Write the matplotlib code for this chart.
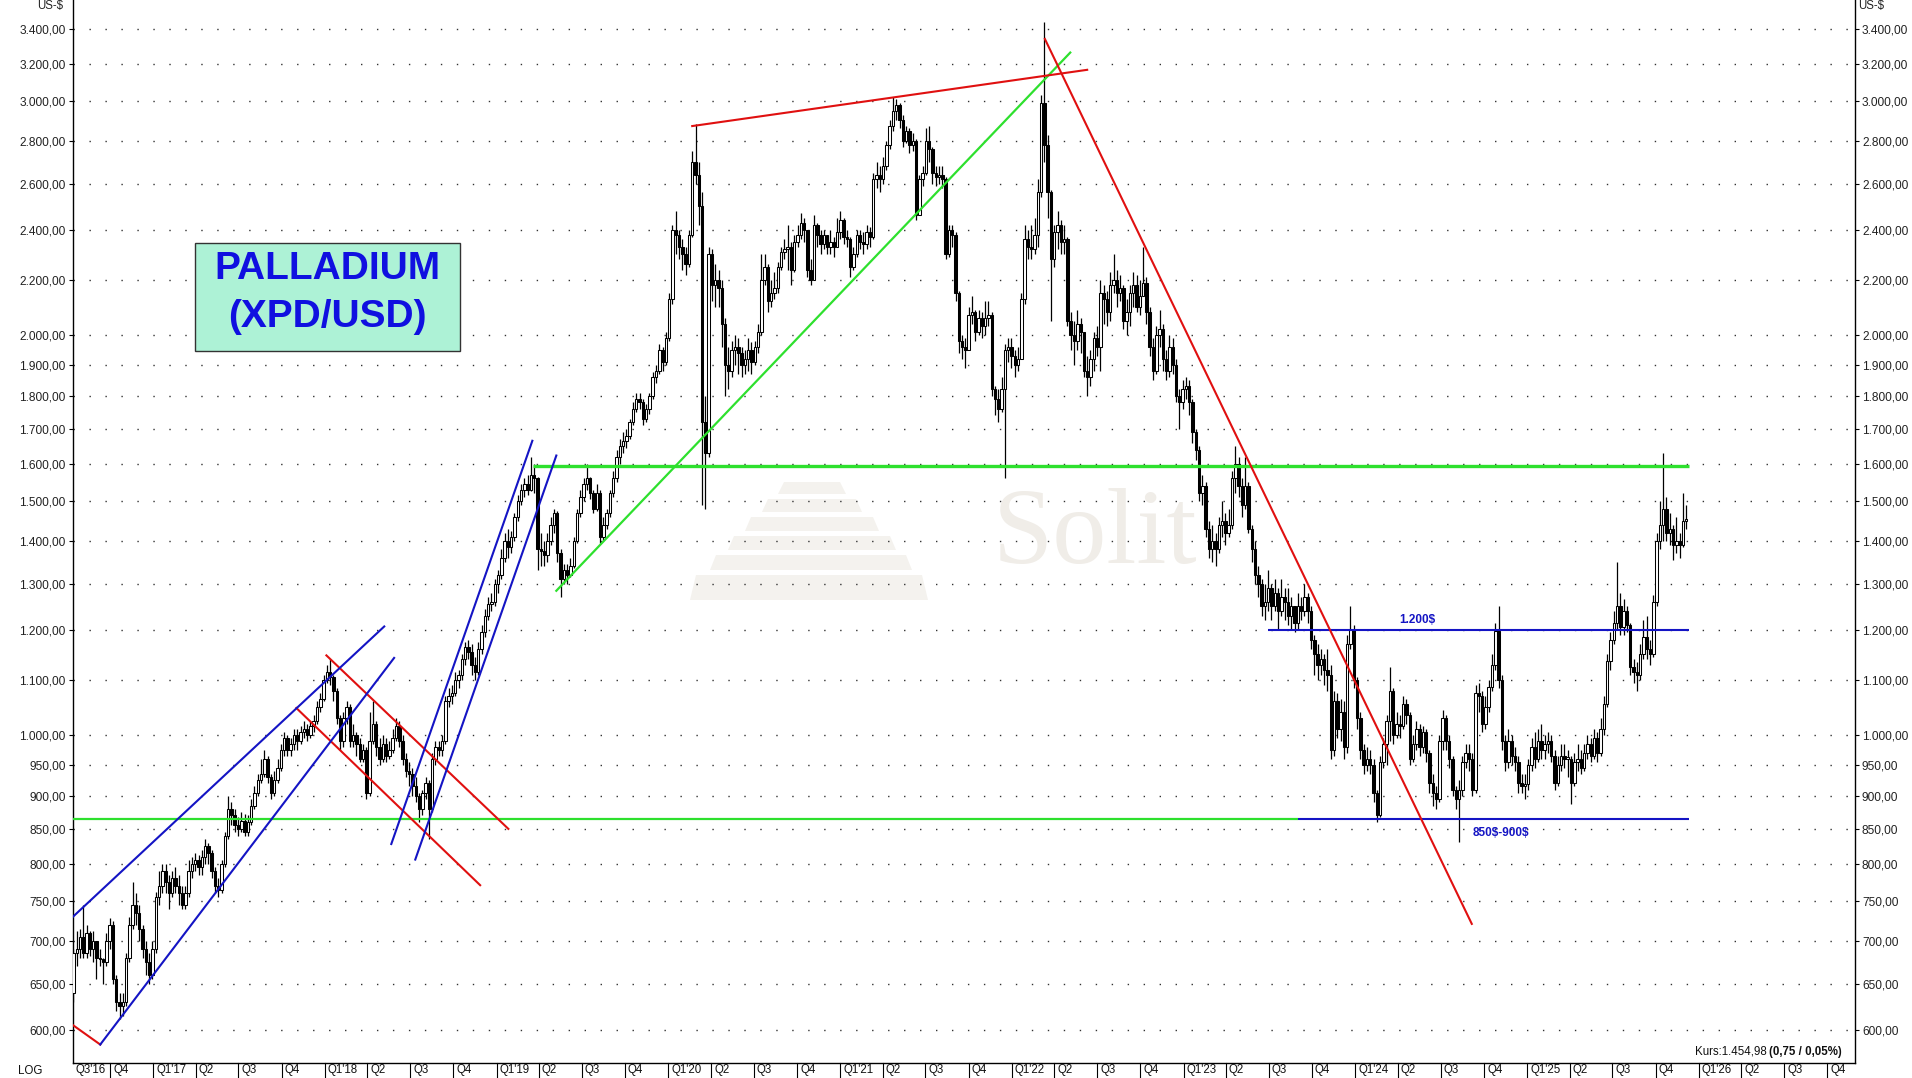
import datetime as dt
import matplotlib
matplotlib.use("Agg")
import matplotlib.pyplot as plt
import matplotlib.dates as mdates
import matplotlib.transforms as mtransforms
from matplotlib.patches import Rectangle, Polygon
from matplotlib.ticker import FixedLocator, FuncFormatter, NullLocator

plt.rcParams['font.family'] = ['Liberation Sans', 'DejaVu Sans']

# ---------------- data: weekly palladium candles (US-$) ----------------
start_date = dt.date(2016, 7, 15)
first_open = 640
close = [
    685, 690, 705, 685, 710, 690, 700, 680, 678, 675,
    700, 720, 655, 630, 625, 630, 680, 720, 745, 735,
    715, 690, 675, 660, 690, 755, 770, 790, 775, 760,
    780, 770, 760, 745, 760, 790, 800, 805, 795, 810,
    825, 815, 790, 770, 765, 800, 840, 880, 870, 855,
    850, 862, 845, 860, 885, 905, 925, 935, 960, 930,
    905, 925, 945, 975, 995, 975, 985, 1000, 990, 1005,
    1010, 1000, 1015, 1025, 1050, 1065, 1100, 1115, 1105, 1080,
    1030, 990, 1030, 1050, 990, 1000, 985, 960, 975, 905,
    990, 1020, 980, 960, 985, 965, 975, 995, 1015, 990,
    960, 940, 935, 915, 900, 880, 905, 920, 880, 960,
    980, 975, 990, 1060, 1070, 1075, 1100, 1110, 1140, 1165,
    1155, 1130, 1115, 1160, 1195, 1230, 1255, 1260, 1300, 1320,
    1360, 1400, 1385, 1410, 1460, 1500, 1530, 1545, 1530, 1570,
    1560, 1380, 1375, 1365, 1400, 1440, 1470, 1370, 1310, 1330,
    1320, 1340, 1400, 1470, 1510, 1545, 1560, 1520, 1480, 1520,
    1410, 1440, 1470, 1520, 1560, 1620, 1650, 1665, 1680, 1720,
    1760, 1790, 1780, 1730, 1760, 1800, 1860, 1880, 1950, 1910,
    1990, 2130, 2400, 2380, 2330, 2300, 2260, 2380, 2700, 2640,
    2500, 1720, 1630, 2300, 2180, 2200, 2170, 2040, 1900, 1880,
    1950, 1960, 1940, 1900, 1920, 1950, 1910, 1960, 2010, 2200,
    2250, 2120, 2150, 2170, 2250, 2310, 2320, 2330, 2240, 2350,
    2380, 2430, 2400, 2240, 2200, 2420, 2380, 2340, 2380, 2330,
    2350, 2330, 2390, 2440, 2370, 2360, 2250, 2300, 2380, 2350,
    2340, 2390, 2370, 2620, 2640, 2620, 2680, 2780, 2870, 2950,
    2980, 2900, 2800, 2850, 2780, 2800, 2460, 2620, 2650, 2800,
    2760, 2650, 2630, 2640, 2620, 2300, 2400, 2380, 2150, 1980,
    1960, 1950, 2070, 2080, 2010, 2060, 2030, 2060, 2070, 1820,
    1790, 1760, 1820, 1950, 1960, 1930, 1900, 1920, 2130, 2360,
    2330, 2320, 2380, 2560, 2990, 2780, 2560, 2280, 2390, 2420,
    2350, 2360, 2050, 2000, 1980, 2040, 2010, 1880, 1860, 1920,
    1990, 1960, 2150, 2130, 2080, 2180, 2200, 2150, 2170, 2050,
    2080, 2150, 2180, 2100, 2140, 2190, 2080, 1960, 1880, 2000,
    2020, 1920, 1880, 1960, 1900, 1800, 1780, 1820, 1830, 1780,
    1690, 1640, 1520, 1540, 1430, 1380, 1400, 1380, 1440, 1450,
    1420, 1440, 1560, 1600, 1540, 1490, 1540, 1430, 1380, 1320,
    1300, 1250, 1260, 1290, 1250, 1280, 1240, 1270, 1260, 1230,
    1250, 1215, 1250, 1240, 1270, 1240, 1180, 1150, 1130, 1140,
    1120, 1110, 975, 1060, 1010, 1040, 980, 1170, 1200, 1100,
    1030, 975, 950, 960, 950, 905, 870, 955, 985, 1025,
    1080, 1000, 1020, 1015, 1055, 1035, 960, 985, 1010, 980,
    1005, 970, 920, 905, 895, 990, 1030, 990, 960, 910,
    895, 910, 955, 970, 960, 910, 1075, 1070, 1020, 1050,
    1087, 1130, 1197, 1100, 990, 955, 990, 965, 955, 920,
    915, 918, 950, 980, 960, 990, 975, 985, 990, 965,
    920, 950, 965, 960, 960, 920, 955, 960, 945, 970,
    985, 965, 995, 970, 1010, 1055, 1137, 1180, 1215, 1250,
    1205, 1240, 1210, 1125, 1115, 1110, 1150, 1185, 1160, 1150,
    1260, 1400, 1440, 1480, 1420, 1430, 1390, 1400, 1390, 1450, 1455,
]
high = [
    690, 712, 715, 745, 720, 712, 712, 700, 690, 680,
    710, 728, 725, 660, 640, 640, 685, 730, 775, 760,
    745, 720, 700, 685, 700, 762, 790, 800, 800, 785,
    790, 795, 785, 770, 770, 805, 810, 815, 812, 820,
    835, 830, 820, 795, 780, 805, 845, 900, 890, 880,
    868, 875, 872, 870, 895, 915, 935, 960, 975, 965,
    935, 940, 960, 985, 1005, 1000, 995, 1010, 1010, 1015,
    1025, 1020, 1025, 1035, 1060, 1075, 1110, 1130, 1140, 1110,
    1085, 1035, 1040, 1060, 1055, 1020, 1005, 995, 985, 980,
    1040, 1060, 1025, 995, 1000, 995, 990, 1010, 1030, 1025,
    1000, 970, 955, 945, 930, 905, 910, 930, 925, 970,
    990, 990, 1000, 1070, 1085, 1090, 1115, 1120, 1150, 1175,
    1180, 1170, 1145, 1175, 1210, 1245, 1270, 1280, 1310, 1330,
    1380, 1420, 1430, 1425, 1470, 1515, 1545, 1560, 1570, 1620,
    1600, 1565, 1420, 1400, 1420, 1460, 1480, 1475, 1380, 1345,
    1345, 1360, 1410, 1480, 1530, 1560, 1600, 1565, 1530, 1545,
    1530, 1460, 1480, 1530, 1580, 1640, 1670, 1690, 1700, 1730,
    1780, 1810, 1810, 1790, 1775, 1810, 1875, 1900, 1970, 1960,
    2010, 2150, 2420, 2480, 2400, 2360, 2330, 2400, 2750, 2880,
    2700, 2560, 1800, 2330, 2320, 2260, 2240, 2200, 2060, 1960,
    1980, 2000, 1990, 1960, 1950, 1990, 1975, 1980, 2040, 2300,
    2300, 2260, 2200, 2230, 2270, 2330, 2360, 2420, 2350, 2380,
    2420, 2470, 2450, 2400, 2280, 2460, 2430, 2400, 2400, 2380,
    2400, 2370, 2450, 2480, 2450, 2400, 2370, 2330, 2400, 2400,
    2390, 2420, 2410, 2650, 2700, 2680, 2720, 2800, 2900, 3020,
    3010, 2990, 2930, 2870, 2860, 2840, 2810, 2640, 2680, 2860,
    2870, 2770, 2680, 2680, 2680, 2630, 2420, 2420, 2390, 2160,
    2000, 1990, 2100, 2140, 2090, 2090, 2080, 2120, 2120, 2080,
    1830, 1820, 1860, 1970, 1990, 1990, 1950, 1960, 2150, 2420,
    2400, 2420, 2450, 2620, 3030, 3440, 2830, 2570, 2420, 2480,
    2440, 2420, 2370, 2080, 2050, 2090, 2060, 2000, 1930, 1950,
    2010, 2030, 2200, 2180, 2160, 2230, 2300, 2240, 2220, 2180,
    2130, 2180, 2230, 2220, 2200, 2330, 2210, 2100, 1990, 2030,
    2090, 2040, 1950, 2000, 1990, 1920, 1820, 1850, 1860, 1850,
    1790, 1700, 1650, 1570, 1550, 1450, 1440, 1420, 1460, 1500,
    1470, 1480, 1580, 1650, 1620, 1560, 1620, 1550, 1440, 1400,
    1340, 1310, 1300, 1330, 1300, 1310, 1290, 1310, 1290, 1290,
    1270, 1250, 1280, 1270, 1300, 1280, 1250, 1190, 1170, 1160,
    1150, 1160, 1130, 1080, 1075, 1065, 1060, 1190, 1250, 1210,
    1105, 1040, 985, 980, 975, 960, 910, 965, 995, 1035,
    1125, 1085, 1040, 1035, 1070, 1065, 1040, 1000, 1025, 1020,
    1015, 1010, 975, 935, 915, 1000, 1045, 1035, 1000, 965,
    915, 925, 965, 985, 985, 970, 1090, 1095, 1080, 1070,
    1100, 1150, 1215, 1250, 1110, 1000, 1010, 1000, 980, 965,
    935, 935, 960, 995, 1005, 1010, 1020, 1000, 1005, 1000,
    975, 965, 985, 985, 975, 965, 970, 985, 975, 985,
    1000, 995, 1010, 1005, 1030, 1070, 1150, 1195, 1240, 1350,
    1280, 1265, 1250, 1215, 1140, 1135, 1170, 1220, 1230, 1180,
    1275, 1420, 1500, 1630, 1510, 1470, 1440, 1460, 1420, 1520, 1490,
]
low = [
    630, 670, 680, 680, 680, 682, 675, 655, 670, 650,
    670, 690, 650, 620, 612, 615, 625, 675, 715, 720,
    700, 680, 660, 650, 655, 685, 745, 760, 760, 740,
    755, 760, 745, 740, 740, 755, 780, 790, 785, 785,
    800, 800, 780, 760, 755, 760, 795, 835, 855, 845,
    840, 845, 840, 840, 855, 880, 900, 920, 930, 920,
    895, 900, 920, 940, 965, 965, 965, 975, 975, 985,
    995, 990, 995, 1005, 1020, 1040, 1060, 1095, 1090, 1060,
    1020, 975, 980, 1020, 980, 980, 965, 955, 955, 895,
    900, 985, 965, 950, 955, 955, 960, 970, 990, 980,
    950, 930, 915, 900, 890, 860, 870, 895, 835, 875,
    950, 965, 965, 985, 1050, 1055, 1070, 1085, 1100, 1130,
    1140, 1110, 1100, 1110, 1150, 1185, 1220, 1240, 1250, 1280,
    1310, 1350, 1360, 1370, 1400, 1450, 1490, 1510, 1515, 1525,
    1520, 1330, 1340, 1340, 1350, 1390, 1420, 1350, 1270, 1300,
    1300, 1315, 1335, 1395, 1460, 1500, 1530, 1505, 1470, 1475,
    1395, 1400, 1430, 1460, 1510, 1550, 1600, 1630, 1645, 1670,
    1710, 1750, 1760, 1710, 1720, 1745, 1790, 1840, 1870, 1880,
    1900, 1980, 2110, 2300, 2280, 2240, 2220, 2250, 2370, 2600,
    2420, 1490, 1480, 1620, 2120, 2100, 2100, 1960, 1800, 1820,
    1860, 1900, 1870, 1860, 1870, 1880, 1870, 1900, 1940, 2000,
    2180, 2080, 2100, 2130, 2150, 2240, 2280, 2240, 2180, 2230,
    2330, 2360, 2350, 2210, 2180, 2200, 2330, 2300, 2320, 2300,
    2300, 2290, 2340, 2360, 2340, 2330, 2210, 2240, 2290, 2320,
    2300, 2320, 2330, 2360, 2580, 2560, 2600, 2660, 2760, 2850,
    2900, 2860, 2770, 2790, 2740, 2750, 2440, 2460, 2590, 2640,
    2700, 2600, 2590, 2600, 2580, 2280, 2290, 2330, 2120, 1940,
    1920, 1890, 1950, 2040, 1980, 2000, 1990, 2000, 2030, 1800,
    1740, 1720, 1750, 1560, 1910, 1890, 1860, 1880, 1920, 2110,
    2280, 2280, 2300, 2330, 2540, 2700, 2450, 2050, 2250, 2320,
    2300, 2300, 2030, 1950, 1900, 1950, 1940, 1860, 1800, 1830,
    1880, 1930, 1880, 2040, 2030, 2050, 2150, 2100, 2120, 2020,
    2000, 2030, 2100, 2080, 2070, 2150, 2040, 1930, 1850, 1870,
    1960, 1880, 1850, 1860, 1870, 1780, 1700, 1760, 1790, 1740,
    1660, 1610, 1500, 1490, 1410, 1360, 1350, 1340, 1370, 1410,
    1390, 1410, 1430, 1520, 1510, 1460, 1480, 1420, 1350, 1300,
    1270, 1230, 1220, 1240, 1220, 1240, 1200, 1230, 1220, 1210,
    1200, 1195, 1200, 1220, 1230, 1215, 1160, 1110, 1100, 1110,
    1090, 1080, 960, 965, 995, 990, 960, 970, 1160, 1085,
    1010, 960, 935, 940, 935, 890, 860, 868, 945, 950,
    990, 985, 995, 995, 1010, 1020, 950, 955, 975, 965,
    970, 955, 905, 885, 880, 890, 975, 975, 945, 900,
    880, 831, 900, 945, 940, 900, 905, 1040, 1005, 1010,
    1040, 1080, 1120, 1085, 975, 940, 945, 950, 940, 905,
    905, 895, 910, 940, 945, 955, 960, 960, 970, 955,
    910, 915, 940, 945, 930, 888, 915, 940, 935, 940,
    960, 955, 960, 955, 965, 1000, 1050, 1120, 1170, 1200,
    1190, 1190, 1195, 1110, 1095, 1080, 1100, 1140, 1140, 1130,
    1145, 1250, 1380, 1400, 1400, 1390, 1355, 1370, 1360, 1385, 1430,
]

y_ticks = [600, 650, 700, 750, 800, 850, 900, 950, 1000, 1100, 1200, 1300,
           1400, 1500, 1600, 1700, 1800, 1900, 2000, 2200, 2400, 2600, 2800,
           3000, 3200, 3400]
quarter_labels = ["Q3'16", "Q4", "Q1'17", "Q2", "Q3", "Q4", "Q1'18", "Q2", "Q3", "Q4",
                  "Q1'19", "Q2", "Q3", "Q4", "Q1'20", "Q2", "Q3", "Q4", "Q1'21", "Q2",
                  "Q3", "Q4", "Q1'22", "Q2", "Q3", "Q4", "Q1'23", "Q2", "Q3", "Q4",
                  "Q1'24", "Q2", "Q3", "Q4", "Q1'25", "Q2", "Q3", "Q4", "Q1'26", "Q2",
                  "Q3", "Q4"]

# support / resistance levels and trend lines: (start date, start price, end date, end price)
green_levels = [(dt.date(2019, 3, 19), 1595, dt.date(2025, 12, 11), 1595, 2.4),
                (dt.date(2016, 7, 13), 865, dt.date(2023, 9, 1), 865, 1.6)]
blue_levels = [(dt.date(2023, 9, 1), 865, dt.date(2025, 12, 11), 865),
               (dt.date(2023, 6, 30), 1200, dt.date(2025, 12, 11), 1200)]
green_trend = [(dt.date(2019, 5, 8), 1284, dt.date(2022, 5, 5), 3262)]
red_trends = [(dt.date(2020, 2, 21), 2872, dt.date(2022, 6, 10), 3166),
              (dt.date(2022, 3, 12), 3340, dt.date(2024, 9, 5), 721),
              (dt.date(2016, 7, 14), 605, dt.date(2016, 9, 10), 585),
              (dt.date(2018, 1, 4), 1148, dt.date(2019, 1, 26), 850),
              (dt.date(2017, 11, 1), 1048, dt.date(2018, 11, 27), 771)]
blue_trends = [(dt.date(2016, 7, 14), 730, dt.date(2018, 5, 7), 1207),
               (dt.date(2016, 9, 10), 585, dt.date(2018, 5, 28), 1143),
               (dt.date(2018, 5, 22), 828, dt.date(2019, 3, 18), 1665),
               (dt.date(2018, 7, 12), 806, dt.date(2019, 5, 8), 1623)]
level_labels = [(dt.date(2024, 5, 13), 1209, "1.200\\$"),
                (dt.date(2024, 11, 6), 844, "850\\$-900\\$")]

# ---------------- figure ----------------
W, H = 1912, 1078
fig = plt.figure(figsize=(W / 100, H / 100), dpi=100)
fig.patch.set_facecolor('white')
ax = fig.add_axes([72.5 / W, 15 / H, (1855 - 72.5) / W, 1063 / H])
ax.set_yscale('log')
ax.set_ylim(566.6, 3573)
x0 = mdates.date2num(dt.date(2016, 7, 13))
x1 = mdates.date2num(dt.date(2026, 11, 29))
ax.set_xlim(x0, x1)

ax.spines['top'].set_visible(False)
for s in ['left', 'right', 'bottom']:
    ax.spines[s].set_color('black')
    ax.spines[s].set_linewidth(1.0)

ax.yaxis.set_major_locator(FixedLocator(y_ticks))
ax.yaxis.set_minor_locator(NullLocator())


def de_fmt(v, pos=None):
    s = f"{v:,.2f}"
    return s.replace(",", "X").replace(".", ",").replace("X", ".")


ax.yaxis.set_major_formatter(FuncFormatter(de_fmt))
ax.tick_params(axis='y', which='major', direction='out', length=3, width=0.8,
               labelsize=8.6, labelcolor='#222222', left=True, right=True,
               labelleft=True, labelright=True, pad=2)
ax.xaxis.set_major_locator(NullLocator())
ax.xaxis.set_minor_locator(NullLocator())
ax.tick_params(axis='x', bottom=False, labelbottom=False)

# dotted horizontal grid
for v in y_ticks:
    ax.axhline(v, color='#333333', lw=1.0, linestyle=(0, (1, 10.5)), zorder=1)

# watermark
fig.text(1095 / W, 1 - 537 / H, "Solit", fontsize=78, family='Liberation Serif',
         color='#f0ede8', ha='center', va='center', zorder=0)
bands = [(482, 494, 778, 846), (499, 512, 762, 862), (517, 531, 745, 879),
         (536, 550, 728, 896), (555, 570, 710, 912), (575, 600, 690, 928)]
for (ya, yb, xa, xb) in bands:
    poly = Polygon([(xa / W, 1 - yb / H), (xb / W, 1 - yb / H),
                    (xb / W - 6 / W, 1 - ya / H), (xa / W + 6 / W, 1 - ya / H)],
                   closed=True, transform=fig.transFigure, facecolor='#f4f2ee',
                   edgecolor='none', zorder=0)
    fig.add_artist(poly)
ax.set_facecolor('none')

# candles
dates = [start_date + dt.timedelta(days=7 * i) for i in range(len(close))]
xs = mdates.date2num(dates)
opens = [first_open] + close[:-1]
for i in range(len(close)):
    o, c = opens[i], close[i]
    hi = max(high[i], o, c)
    lo = min(low[i], o, c)
    ax.vlines(xs[i], lo, hi, color='black', lw=0.9, zorder=2)
    bottom = min(o, c)
    top = max(o, c)
    if top - bottom < bottom * 0.002:
        top = bottom * 1.002
    fc = 'white' if c >= o else 'black'
    ax.bar(xs[i], top - bottom, bottom=bottom, width=5.2, facecolor=fc,
           edgecolor='black', linewidth=0.75, zorder=3)

GREEN = '#2ee02e'
RED = '#e01010'
BLUE = '#1414c4'
for (d0, p0, d1, p1, lw) in green_levels:
    ax.plot([mdates.date2num(d0), mdates.date2num(d1)], [p0, p1], color=GREEN, lw=lw,
            zorder=4, solid_capstyle='butt')
for (d0, p0, d1, p1) in blue_levels:
    ax.plot([mdates.date2num(d0), mdates.date2num(d1)], [p0, p1], color=BLUE, lw=1.5,
            zorder=4, solid_capstyle='butt')
for (d0, p0, d1, p1) in green_trend:
    ax.plot([mdates.date2num(d0), mdates.date2num(d1)], [p0, p1], color=GREEN, lw=1.6,
            zorder=4)
for (d0, p0, d1, p1) in red_trends:
    ax.plot([mdates.date2num(d0), mdates.date2num(d1)], [p0, p1], color=RED, lw=1.5,
            zorder=4)
for (d0, p0, d1, p1) in blue_trends:
    ax.plot([mdates.date2num(d0), mdates.date2num(d1)], [p0, p1], color=BLUE, lw=1.5,
            zorder=4)
ax.text(mdates.date2num(level_labels[0][0]), level_labels[0][1], level_labels[0][2],
        color=BLUE, fontsize=8.5, fontweight='bold', ha='center', va='bottom', zorder=5)
ax.text(mdates.date2num(level_labels[1][0]), level_labels[1][1], level_labels[1][2],
        color=BLUE, fontsize=8.5, fontweight='bold', ha='center', va='center', zorder=5)

# quarter axis labels and separators
trans = mtransforms.blended_transform_factory(ax.transData, ax.transAxes)
q_dates = [dt.date(2016, 7, 1)]
y, m = 2016, 10
while len(q_dates) < len(quarter_labels):
    q_dates.append(dt.date(y, m, 1))
    m += 3
    if m > 12:
        m -= 12
        y += 1
sep_h = 15 / 1063
tr = mtransforms.offset_copy(trans, fig=fig, x=3, y=0, units='dots')
for i, (qd, lab) in enumerate(zip(q_dates, quarter_labels)):
    xq = max(mdates.date2num(qd), x0)
    if i > 0:
        ax.plot([xq, xq], [0, -sep_h], transform=trans, color='black', lw=0.8,
                clip_on=False)
    ax.text(xq, -7.5 / 1063, lab, transform=tr, ha='left', va='center',
            fontsize=8.3, color='#111111', clip_on=False)

fig.text(30 / W, 1 - 1071 / H, "LOG", fontsize=8.3, ha='center', va='center', color='#111111')
fig.text(63 / W, 1 - 6 / H, "US-$", fontsize=8.3, ha='right', va='center', color='#222222')
fig.text(1858 / W, 1 - 6 / H, "US-$", fontsize=8.3, ha='left', va='center', color='#222222')

# Kurs line
fig.text(1767 / W, 1 - 1052 / H, "Kurs:1.454,98", fontsize=8.3, ha='right', va='center',
         color='#111111')
fig.text(1769 / W, 1 - 1052 / H, "(0,75 / 0,05%)", fontsize=8.3, ha='left', va='center',
         color='#111111', fontweight='bold')

# title box
box = Rectangle((195 / W, 1 - 351 / H), 265 / W, 108 / H, transform=fig.transFigure,
                facecolor='#adf2d6', edgecolor='#333333', linewidth=1.0, zorder=6)
fig.add_artist(box)
fig.text(327.5 / W, 1 - 269 / H, "PALLADIUM", fontsize=28, fontweight='bold',
         color='#1010e0', ha='center', va='center', zorder=7)
fig.text(327.5 / W, 1 - 317 / H, "(XPD/USD)", fontsize=28, fontweight='bold',
         color='#1010e0', ha='center', va='center', zorder=7)

fig.savefig("out.png", dpi=100, facecolor='white')
